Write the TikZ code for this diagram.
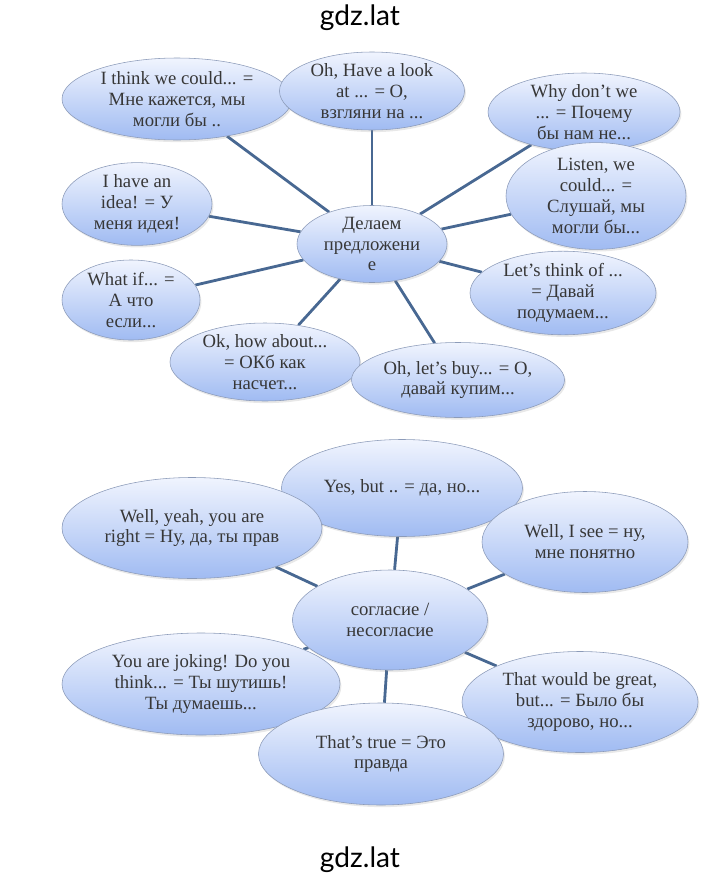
\documentclass[tikz,border=0pt]{standalone}
\usepackage{fontspec}
\setmainfont{Liberation Serif}
\newfontfamily\wmfont{Lato}
\usetikzlibrary{shapes.geometric,shadows,backgrounds}
\definecolor{bubtop}{RGB}{240,244,254}
\definecolor{bubbot}{RGB}{160,187,242}
\definecolor{bubline}{RGB}{140,155,185}
\definecolor{linkblue}{RGB}{72,104,146}
\definecolor{txtgray}{RGB}{55,55,55}

\begin{document}
\begin{tikzpicture}[x=0.025cm, y=-0.025cm, font=\fontsize{13.3}{14.9}\selectfont,
  bub/.style 2 args={ellipse, draw=bubline, top color=bubtop, bottom color=bubbot,
    minimum width=#1*0.025cm, minimum height=#2*0.025cm, inner sep=0pt, align=center,
    text=txtgray, drop shadow={opacity=0.18, shadow xshift=1pt, shadow yshift=-1.5pt}},
  link/.style={draw=linkblue, line width=2pt},
  wm/.style={font=\wmfont\fontsize{20}{24}\selectfont}]
  \useasboundingbox (0,0) rectangle (720,876);

  % first map: making suggestions
  \node[bub={230}{82}, inner xsep=-4pt] (think) at (177,99) {I think we could... =\\Мне кажется, мы\\могли бы ..};
  \node[bub={185}{78}] (look) at (372,91) {Oh, Have a look\\at ... = O,\\взгляни на ...};
  \node[bub={192}{78}] (whynot) at (584,112) {Why don't we\\... = Почему\\бы нам не...};
  \node[bub={180}{88}] (listen) at (596,196) {Listen, we\\could... =\\Слушай, мы\\могли бы...};
  \node[bub={150}{77}] (idea) at (137,204) {I have an\\idea! = У\\меня идея!};
  \node[bub={150}{77}] (offer) at (372,244) {Делаем\\предложени\\е};
  \node[bub={138}{80}] (whatif) at (131,300) {What if... =\\А что\\если...};
  \node[bub={186}{80}] (letsthink) at (563,293) {Let's think of ...\\= Давай\\подумаем...};
  \node[bub={190}{73}] (okhow) at (265,362) {Ok, how about...\\= ОКб как\\насчет...};
  \node[bub={213}{75}] (buy) at (458,380) {Oh, let's buy... = О,\\давай купим...};

  % second map: agreeing / disagreeing
  \node[bub={241}{97}] (yesbut) at (402,488) {Yes, but .. = да, но...};
  \node[bub={260}{101}] (yeah) at (192,528) {Well, yeah, you are\\right = Ну, да, ты прав};
  \node[bub={206}{101}] (isee) at (585,542) {Well, I see = ну,\\мне понятно};
  \node[bub={195}{100}] (agree) at (390,620) {согласие /\\несогласие};
  \node[bub={278}{102}, inner xsep=-4pt] (joking) at (201,684) {You are joking! Do you\\think... = Ты шутишь!\\Ты думаешь...};
  \node[bub={236}{101}] (great) at (580,702) {That would be great,\\but... = Было бы\\здорово, но...};
  \node[bub={245}{102}] (true) at (381,754) {That's true = Это\\правда};

  \begin{scope}[on background layer]
    \foreach \t in {think,look,whynot,listen,idea,whatif,letsthink,okhow,buy}
      \draw[link] (offer) -- (\t);
    \foreach \t in {yesbut,yeah,isee,joking,great,true}
      \draw[link] (agree) -- (\t);
  \end{scope}

  \node[wm] (wmtop) at (360,18) {gdz.lat};
  \node[wm] (wmbot) at (360,860) {gdz.lat};
\end{tikzpicture}
\end{document}
